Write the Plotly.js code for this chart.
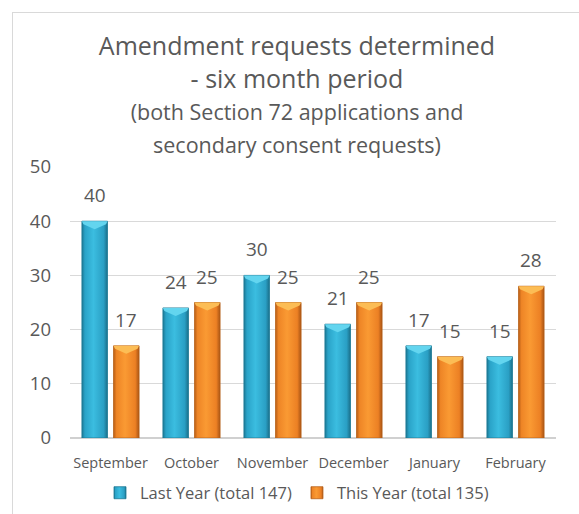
<!DOCTYPE html>
<html>
<head>
<meta charset="utf-8">
<script src="https://cdn.plot.ly/plotly-3.0.1.min.js"></script>
<style>
  html, body { margin: 0; padding: 0; background: #ffffff; }
  #frame { position: absolute; left: 12px; top: 12px; width: 620px; height: 560px; border: 1.5px solid #d9d9d9; box-sizing: border-box; }
  #chart { position: absolute; left: 0; top: 0; width: 579px; height: 514px; }
</style>
</head>
<body>
<div id="frame"></div>
<div id="chart"></div>
<svg width="0" height="0" style="position:absolute">
  <defs>
    <linearGradient id="gradBlue" x1="0" y1="0" x2="1" y2="0">
      <stop offset="0" stop-color="#1c7894"/>
      <stop offset="0.12" stop-color="#2aa3c8"/>
      <stop offset="0.45" stop-color="#3bbde0"/>
      <stop offset="0.85" stop-color="#2a9fc4"/>
      <stop offset="1" stop-color="#1a6e88"/>
    </linearGradient>
    <linearGradient id="gradOrange" x1="0" y1="0" x2="1" y2="0">
      <stop offset="0" stop-color="#b85d16"/>
      <stop offset="0.12" stop-color="#ee8526"/>
      <stop offset="0.45" stop-color="#fa9a33"/>
      <stop offset="0.85" stop-color="#ec8024"/>
      <stop offset="1" stop-color="#a95414"/>
    </linearGradient>
  </defs>
</svg>
<script>
const months = ["September", "October", "November", "December", "January", "February"];
const lastYear = [40, 24, 30, 21, 17, 15];
const thisYear = [17, 25, 25, 25, 15, 28];
const seriesNames = ["Last Year (total 147)", "This Year (total 135)"];
const yTicks = [0, 10, 20, 30, 40, 50];

const FONT = "'Open Sans', 'Noto Sans', sans-serif";
const GREY = "#595959";

function barTrace(name, values, color, edge) {
  return {
    type: "bar",
    name: name,
    x: months,
    y: values,
    marker: { color: color, line: { color: edge, width: 0.8 } },
    hoverinfo: "x+y"
  };
}

const data = [
  barTrace(seriesNames[0], lastYear, "#2ba6cb", "#1d7a96"),
  barTrace(seriesNames[1], thisYear, "#f28a26", "#b8621a")
];

// value labels above each bar (grouped offsets of half a bar slot)
const annotations = [];
[[lastYear, -15.75], [thisYear, 15.75]].forEach(([vals, dx]) => {
  vals.forEach((v, i) => {
    annotations.push({
      x: months[i], y: v, xref: "x", yref: "y",
      text: String(v), showarrow: false,
      xanchor: "center", yanchor: "bottom",
      xshift: dx, yshift: 11,
      font: { family: FONT, size: 19, color: GREY }
    });
  });
});

const layout = {
  width: 579,
  height: 514,
  margin: { l: 70, r: 23, t: 167, b: 76 },
  paper_bgcolor: "rgba(0,0,0,0)",
  plot_bgcolor: "rgba(0,0,0,0)",
  font: { family: FONT, color: GREY },
  title: {
    text: "Amendment requests determined<br>- six month period<br><span style='font-size:21.5px'>(both Section 72 applications and<br>secondary consent requests)</span>",
    font: { family: FONT, size: 25, color: GREY },
    x: 297 / 579,
    xanchor: "center",
    xref: "container",
    y: 1 - 55 / 514,
    yanchor: "top",
    yref: "container"
  },
  annotations: annotations,
  barmode: "group",
  bargap: 0.22,
  bargroupgap: 0.19,
  xaxis: {
    type: "category",
    tickfont: { family: FONT, size: 14.5, color: GREY },
    showline: false,
    ticks: "",
    showgrid: false,
    ticklabelstandoff: 14
  },
  yaxis: {
    range: [0, 50],
    tickvals: yTicks,
    tickfont: { family: FONT, size: 18.5, color: GREY },
    showgrid: true,
    gridcolor: "#d9d9d9",
    gridwidth: 1,
    zeroline: true,
    zerolinecolor: "#d0d0d0",
    zerolinewidth: 1.5,
    showline: false,
    ticks: "",
    ticklabelstandoff: 18
  },
  legend: {
    orientation: "h",
    x: 297 / 579,
    xanchor: "center",
    xref: "container",
    y: 1 - 493 / 514,
    yanchor: "middle",
    yref: "container",
    font: { family: FONT, size: 16.5, color: GREY },
    itemwidth: 30
  },
  showlegend: true
};

Plotly.newPlot("chart", data, layout, { displayModeBar: false, staticPlot: true }).then(gd => {
  const grads = ["url(#gradBlue)", "url(#gradOrange)"];
  const caps = ["#63d5ef", "#fcbd55"];
  const NS = "http://www.w3.org/2000/svg";
  gd.querySelectorAll(".barlayer .trace").forEach((tr, i) => {
    tr.querySelectorAll(".point path").forEach(p => {
      p.style.fill = grads[i];
      // bevelled top cap, derived from the rendered bar geometry
      const b = p.getBBox();
      if (b.height < 4) return;
      const x0 = b.x, x1 = b.x + b.width, y0 = b.y, cx = b.x + b.width / 2;
      const poly = document.createElementNS(NS, "polygon");
      poly.setAttribute("points",
        `${x0},${y0} ${x1},${y0} ${x1 - 1.5},${y0 + 3} ${cx},${y0 + 8} ${x0 + 1.5},${y0 + 3}`);
      poly.setAttribute("fill", caps[i]);
      p.parentNode.appendChild(poly);
    });
  });
  gd.querySelectorAll(".legend .traces").forEach((tr, i) => {
    tr.querySelectorAll(".legendpoints path").forEach(p => { p.style.fill = grads[i]; });
  });
});
</script>
</body>
</html>
